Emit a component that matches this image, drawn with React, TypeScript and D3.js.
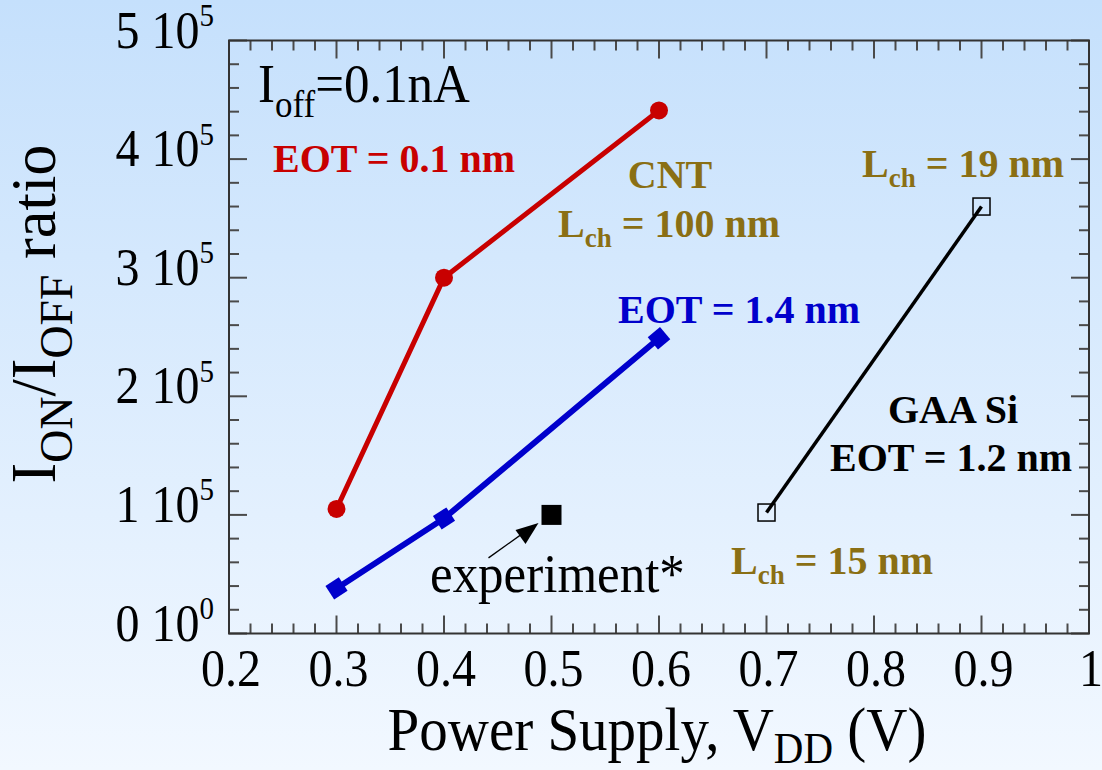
// I_ON/I_OFF ratio vs power supply: CNT (two EOTs) against GAA Si
import * as d3 from 'd3'

const vdd = [0.3, 0.4, 0.6]
const cntEot01 = [1.05e5, 3.0e5, 4.41e5]
const cntEot14 = [0.38e5, 0.97e5, 2.49e5]
const gaaVdd = [0.7, 0.9]
const gaaRatio = [1.02e5, 3.6e5]
const expVdd = [0.5]
const expRatio = [1.0e5]

const xTickLabels = ['0.2', '0.3', '0.4', '0.5', '0.6', '0.7', '0.8', '0.9', '1']
const yTickMant = ['0', '1', '2', '3', '4', '5']
const yTickExp = ['0', '5', '5', '5', '5', '5']

const W = 1102
const H = 770
const margin = { top: 40.5, right: 13, bottom: 136.5, left: 229 }

const RED = '#c80000'
const BLUE = '#0000cc'
const OLIVE = '#8a6f14'
const SERIF = '"Liberation Serif", "Times New Roman", serif'
const STRETCH = 1.08 // the reference's lettering is a little taller than wide

export default function App() {
  const x = d3.scaleLinear().domain([0.2, 1.0]).range([margin.left, W - margin.right])
  const y = d3.scaleLinear().domain([0, 5e5]).range([H - margin.bottom, margin.top])
  const [x0, x1] = x.range()
  const [y0, y1] = y.range()

  const line = d3.line<[number, number]>().x(d => x(d[0])).y(d => y(d[1]))
  const redPts = vdd.map((v, i) => [v, cntEot01[i]] as [number, number])
  const bluePts = vdd.map((v, i) => [v, cntEot14[i]] as [number, number])
  const gaaPts = gaaVdd.map((v, i) => [v, gaaRatio[i]] as [number, number])

  const xMajor = x.ticks(8)
  const xMinor = x.ticks(40)
  const yMajor = y.ticks(5)
  const yMinor = y.ticks(25)
  const isMajorX = (t: number) => xMajor.some(m => Math.abs(m - t) < 1e-6)
  const isMajorY = (t: number) => yMajor.some(m => Math.abs(m - t) < 1e-3)

  // blue markers are squares turned along the line
  const angle = (i: number) => {
    const a = bluePts[Math.max(0, i - 1)]
    const b = bluePts[Math.max(1, i)]
    return (Math.atan2(y(b[1]) - y(a[1]), x(b[0]) - x(a[0])) * 180) / Math.PI
  }

  const ex = x(expVdd[0])
  const ey = y(expRatio[0])
  const at = (px: number, py: number) => `translate(${px},${py}) scale(1,${STRETCH})`

  return (
    <svg width={W} height={H} style={{ position: 'absolute', left: 0, top: 0 }} fontFamily={SERIF}>
      <defs>
        <linearGradient id="bg" x1="0" y1="0" x2="0" y2="1">
          <stop offset="0" stopColor="#c5e0fc" />
          <stop offset="1" stopColor="#f2f8ff" />
        </linearGradient>
      </defs>
      <rect width={W} height={H} fill="url(#bg)" />

      {/* ticks on all four sides, pointing in */}
      <g stroke="#4a4a4a" strokeWidth={2}>
        {xMinor.map(t => {
          const len = isMajorX(t) ? 18 : 10
          return (
            <g key={'x' + t}>
              <line x1={x(t)} x2={x(t)} y1={y0} y2={y0 - len} />
              <line x1={x(t)} x2={x(t)} y1={y1} y2={y1 + len} />
            </g>
          )
        })}
        {yMinor.map(t => {
          const len = isMajorY(t) ? 18 : 10
          return (
            <g key={'y' + t}>
              <line x1={x0} x2={x0 + len} y1={y(t)} y2={y(t)} />
              <line x1={x1} x2={x1 - len} y1={y(t)} y2={y(t)} />
            </g>
          )
        })}
      </g>
      <rect x={x0} y={y1} width={x1 - x0} height={y0 - y1} fill="none" stroke="#333" strokeWidth={2} />

      {/* tick labels */}
      <g fontSize={48} fill="#000">
        {xMajor.map((t, i) => (
          <text key={t} transform={at(x(t) + 2, y0 + 52)} textAnchor="middle">{xTickLabels[i]}</text>
        ))}
        {yMajor.map((t, i) => (
          <text key={t} transform={at(x0 - 15, y(t) + 7)} textAnchor="end">
            {yTickMant[i]} 10<tspan fontSize={29} dy={-20}>{yTickExp[i]}</tspan>
          </text>
        ))}
      </g>

      {/* axis titles */}
      <text transform={at(657, 750)} textAnchor="middle" fontSize={57}>
        Power Supply, V<tspan fontSize={41} dy={12}>DD</tspan><tspan dy={-12}> (V)</tspan>
      </text>
      <text transform="translate(55,314) rotate(-90) scale(1.04,1.06)" textAnchor="middle" fontSize={60}>
        I<tspan fontSize={44} dy={16}>ON</tspan><tspan dy={-16}>/I</tspan>
        <tspan fontSize={44} dy={16}>OFF</tspan><tspan dy={-16}> ratio</tspan>
      </text>

      {/* series */}
      <path d={line(gaaPts) ?? ''} fill="none" stroke="#000" strokeWidth={3.5} />
      {gaaPts.map((p, i) => (
        <rect key={i} x={x(p[0]) - 8.5} y={y(p[1]) - 8.5} width={17} height={17} fill="none" stroke="#000" strokeWidth={1.5} />
      ))}

      <path d={line(redPts) ?? ''} fill="none" stroke={RED} strokeWidth={5} />
      {redPts.map((p, i) => (
        <circle key={i} cx={x(p[0])} cy={y(p[1])} r={9} fill={RED} />
      ))}

      <path d={line(bluePts) ?? ''} fill="none" stroke={BLUE} strokeWidth={6} />
      {bluePts.map((p, i) => (
        <rect key={i} x={-8} y={-8} width={16} height={16} fill={BLUE}
          transform={`translate(${x(p[0])},${y(p[1])}) rotate(${angle(i)})`} />
      ))}

      {expVdd.map((v, i) => (
        <rect key={i} x={x(v) - 10} y={y(expRatio[i]) - 10} width={20} height={20} fill="#000" />
      ))}

      {/* arrow pointing at the experiment */}
      <line x1={ex - 63} y1={ey + 43} x2={ex - 28} y2={ey + 18} stroke="#000" strokeWidth={1.3} />
      <path d={`M${ex - 13},${ey + 8} L${ex - 36},${ey + 15} L${ex - 26},${ey + 29} Z`} fill="#000" />

      {/* annotations */}
      <text transform={at(258, 102)} fontSize={51}>
        I<tspan fontSize={35} dy={14}>off</tspan><tspan dy={-14}>=0.1nA</tspan>
      </text>
      <g fontWeight="bold" fontSize={40}>
        <text x={273} y={172} fill={RED}>EOT = 0.1 nm</text>
        <text x={670} y={188} fill={OLIVE} textAnchor="middle">CNT</text>
        <text x={558} y={237} fill={OLIVE}>
          L<tspan fontSize={27} dy={10}>ch</tspan><tspan dy={-10}> = 100 nm</tspan>
        </text>
        <text x={618} y={323} fill={BLUE}>EOT = 1.4 nm</text>
        <text x={862} y={177} fill={OLIVE}>
          L<tspan fontSize={27} dy={10}>ch</tspan><tspan dy={-10}> = 19 nm</tspan>
        </text>
        <text x={953} y={423} fill="#000" textAnchor="middle">GAA Si</text>
        <text x={830} y={471} fill="#000">EOT = 1.2 nm</text>
        <text x={731} y={574} fill={OLIVE}>
          L<tspan fontSize={27} dy={10}>ch</tspan><tspan dy={-10}> = 15 nm</tspan>
        </text>
      </g>
      <text transform={at(430, 592)} fontSize={51}>experiment*</text>
    </svg>
  )
}
